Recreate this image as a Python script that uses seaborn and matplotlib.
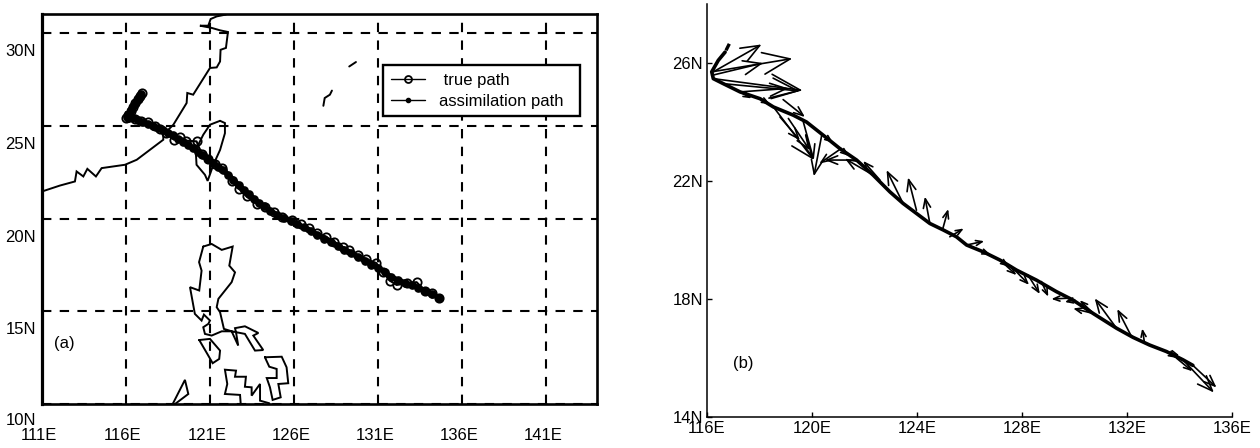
import matplotlib
matplotlib.use("Agg")
import matplotlib.pyplot as plt
from matplotlib.transforms import ScaledTranslation
import numpy as np
import seaborn as sns

# ---- panel (a): tracks (lon E, lat N) ----
true_lon = [116.95,116.82,116.7,116.55,116.42,116.28,116.12,116.0,116.2,116.55,116.9,117.3,117.7,118.05,118.4,118.86,119.2,119.6,
            120.2,120.5,120.9,121.3,121.7,122.3,122.74,123.18,123.8,124.3,124.8,125.3,125.9,126.4,126.9,127.4,127.9,128.4,128.9,
            129.3,129.8,130.3,130.9,131.3,131.71,132.11,132.7,133.3,133.8,134.2,134.65]
true_lat = [26.78,26.6,26.42,26.22,26.0,25.8,25.6,25.4,25.5,25.36,25.28,25.18,24.98,24.85,24.62,24.25,24.4,24.2,
            24.16,23.5,23.2,22.95,22.7,22.0,21.59,21.19,20.79,20.6,20.35,20.1,19.9,19.68,19.5,19.2,19.02,18.75,18.48,
            18.3,18.02,17.82,17.6,17.1,16.65,16.42,16.5,16.57,16.1,15.98,15.72]
assim_lon = [116.9,116.75,116.6,116.45,116.3,116.15,116.05,116.1,116.4,116.7,117.0,117.3,117.6,117.9,118.2,118.5,118.8,119.1,
             119.4,119.7,120.0,120.3,120.6,120.9,121.2,121.5,121.8,122.1,122.4,122.7,123.0,123.3,123.6,123.9,124.2,124.6,125.0,
             125.4,125.8,126.2,126.6,127.0,127.4,127.8,128.2,128.6,129.0,129.4,129.8,130.2,130.6,131.0,131.4,131.8,132.2,132.6,
             133.0,133.4,133.8,134.2,134.65]
assim_lat = [26.7,26.5,26.3,26.1,25.88,25.65,25.45,25.42,25.4,25.32,25.22,25.12,25.0,24.88,24.78,24.62,24.5,24.3,
             24.12,23.95,23.78,23.6,23.4,23.2,23.02,22.8,22.6,22.35,22.08,21.82,21.55,21.32,21.08,20.85,20.65,20.42,20.2,
             20.05,19.88,19.7,19.52,19.32,19.12,18.92,18.72,18.52,18.32,18.12,17.95,17.72,17.52,17.35,17.1,16.85,16.68,16.55,
             16.42,16.28,16.1,15.95,15.72]

# ---- coastlines (lon E, lat N) ----
china_lon = [111.0,112.07,112.96,113.06,113.46,113.7,114.21,114.55,115.94,116.64,118.22,118.22,118.82,119.61,119.65,120.0,121.0,121.4,121.6,121.63,121.95,122.07,121.6,121.1,120.4,120.9,121.04,121.4,121.95]
china_lat = [21.46,21.78,22.0,22.54,22.27,22.68,22.27,22.72,22.9,23.17,24.25,24.52,25.06,26.23,26.77,26.68,28.12,28.15,28.47,29.1,29.2,30.06,30.15,30.28,30.4,30.4,30.76,30.9,31.0]
taiwan_lon = [121.6,121.89,121.89,121.6,121.2,120.86,120.7,120.2,120.15,120.6,121.0,121.6]
taiwan_lat = [25.27,25.15,24.6,23.7,22.9,22.03,22.36,22.9,23.7,24.52,25.06,25.27]
islet1_lon = [129.29,129.69]
islet1_lat = [28.2,28.44]
islet2_lon = [127.75,127.83,128.14,128.26]
islet2_lat = [26.08,26.5,26.68,26.9]
luzon_lon = [120.6,121.1,121.7,122.35,122.15,122.49,122.29,121.5,121.4,121.6,121.83,122.29,122.68,122.55,122.49,123.08,123.88,123.58,124.17,123.68,123.08,122.29,121.7,121.1,120.7,120.6,120.9,121.0,120.64,120.5,120.1,119.81,120.36,120.5,120.35,120.6]
luzon_lat = [18.49,18.63,18.31,18.49,17.46,17.1,16.57,15.67,15.22,14.95,14.05,13.92,13.15,13.87,14.09,14.19,13.83,13.69,12.91,12.88,13.78,13.92,13.92,13.69,13.78,14.14,14.32,14.5,14.82,14.5,14.86,16.3,16.12,17.19,17.65,18.49]
mindoro_lon = [120.36,121.0,121.6,121.55,121.16,120.9,120.36]
mindoro_lat = [13.45,13.51,12.88,12.43,12.2,12.61,13.45]
panay_lon = [122.83,122.79,121.89,122.03,121.89,122.55,122.49,123.14,123.08,123.48,123.48,123.98,123.98,124.53]
panay_lat = [10.0,10.49,10.54,11.08,11.85,11.8,11.47,11.47,10.93,10.9,10.45,11.08,10.18,10.04]
leyte_lon = [124.27,125.27,125.56,125.66,125.07,125.21,124.73,124.57,124.38,124.97,124.97,124.53,124.27]
leyte_lat = [12.52,12.55,11.98,11.12,11.08,10.36,10.22,10.9,11.4,11.4,11.89,12.01,12.52]
palawan_lon = [118.78,119.51,119.71,118.92]
palawan_lat = [10.0,11.3,10.54,10.0]
coasts = [(china_lon,china_lat),(taiwan_lon,taiwan_lat),(islet1_lon,islet1_lat),(islet2_lon,islet2_lat),
          (luzon_lon,luzon_lat),(mindoro_lon,mindoro_lat),(panay_lon,panay_lat),(leyte_lon,leyte_lat),(palawan_lon,palawan_lat)]

a_xticks = [111,116,121,126,131,136,141]
a_xlabels = ["111E","116E","121E","126E","131E","136E","141E"]
a_yticks = [10,15,20,25,30]
a_ylabels = ["10N","15N","20N","25N","30N"]

# ---- panel (b): track and error vectors ----
b_track_lon = [116.69,116.43,116.18,116.24,116.62,117.26,118.02,118.53,119.29,119.79,120.43,121.06,121.7,122.33,122.97,123.47,123.98,124.49,125.0,125.5,125.89,126.52,127.16,127.79,128.55,129.31,129.95,130.71,131.6,132.23,132.86,133.5,134.13,134.51]
b_track_lat = [26.37,26.09,25.7,25.47,25.3,25.02,24.79,24.51,24.23,24.0,23.55,23.1,22.71,22.2,21.63,21.24,20.9,20.56,20.34,20.11,19.83,19.6,19.32,18.98,18.64,18.25,17.96,17.51,17.01,16.7,16.44,16.22,15.94,15.75]
b_dash_lon = [116.85,116.72]
b_dash_lat = [26.65,26.42]
arrow_lon0 = [116.24,116.18,116.18,116.24,116.62,117.26,118.53,118.78,119.1,119.67,120.37,121.11,121.7,122.33,122.59,123.47,123.98,124.49,124.97,118.9,
              125.25,125.89,127.16,127.67,128.23,128.74,129.82,130.01,130.71,130.65,131.6,132.17,132.67,133.5,133.88,134.51,134.13,
              117.26,118.02,120.43,121.06,126.52,127.16,133.5]
arrow_lat0 = [25.7,25.7,25.58,25.47,25.3,25.02,24.51,24.17,24.12,24.0,23.55,23.1,22.71,22.2,22.03,21.24,21.01,20.56,20.34,24.76,
              20.11,19.83,19.32,19.03,18.81,18.59,18.03,17.96,17.51,17.57,17.01,16.73,16.5,16.22,16.0,15.75,15.94,
              25.02,24.79,23.55,23.1,19.6,19.32,16.22]
arrow_lon1 = [118.08,119.25,118.14,119.64,119.54,119.1,120.07,119.54,119.92,120.07,120.07,120.28,120.49,121.25,121.95,122.84,123.66,124.3,125.19,119.73,
              125.78,126.56,127.79,128.27,128.68,129.0,129.12,129.63,129.95,130.2,130.77,131.63,132.58,134.0,134.49,135.41,135.31,
              117.7,118.4,120.8,121.4,126.8,127.5,133.9]
arrow_lat1 = [26.63,26.15,26.0,25.07,25.05,25.14,22.71,23.38,23.04,22.71,22.16,22.59,22.71,22.76,22.68,22.37,22.12,21.47,21.05,24.17,
              20.39,19.96,18.81,18.48,18.17,18.08,18.0,17.9,17.68,17.96,18.02,17.66,17.0,16.08,15.55,15.0,14.83,
              24.8,24.6,23.3,22.85,19.5,19.1,16.0]

b_xticks = [116,120,124,128,132,136]
b_xlabels = ["116E","120E","124E","128E","132E","136E"]
b_yticks = [14,18,22,26]
b_ylabels = ["14N","18N","22N","26N"]

sns.set_theme(style="white")
plt.rcParams["font.family"] = ["Liberation Sans", "DejaVu Sans"]
FS = 12

W, H = 1260, 448
fig = plt.figure(figsize=(W/100, H/100), dpi=100)

def box(l, t, r, b):
    return [l/W, 1-b/H, (r-l)/W, (b-t)/H]

# ---------------- (a) ----------------
ax = fig.add_axes(box(42, 14, 597, 404))
ax.set_xlim(111, 144.04)
ax.set_ylim(10, 31.03)
ax.set_xticks(a_xticks, a_xlabels)
ax.set_yticks(a_yticks, a_ylabels)
ax.grid(True, color="black", lw=1.5, linestyle=(0, (4.5, 4)))
ax.set_axisbelow(True)
ax.tick_params(length=0, labelsize=FS, colors="black", pad=0)
for s in ax.spines.values():
    s.set_visible(True); s.set_color("black"); s.set_linewidth(1.9)
ax.spines["left"].set_linewidth(2.3)
for lab, tick in zip(ax.get_yticklabels(), a_yticks):
    dy = -15/100 if tick == 10 else -17/100
    lab.set_transform(lab.get_transform() + ScaledTranslation(-6/100, dy, fig.dpi_scale_trans))
for lab in ax.get_xticklabels():
    lab.set_transform(lab.get_transform() + ScaledTranslation(-3/100, -24/100, fig.dpi_scale_trans))

for lon, lat in coasts:
    ax.plot(lon, lat, color="black", lw=1.4, solid_joinstyle="miter", clip_on=True)

sns.lineplot(x=true_lon, y=true_lat, sort=False, estimator=None, ax=ax, color="black", lw=1.5,
             marker="o", markersize=6, markerfacecolor="none", markeredgecolor="black",
             markeredgewidth=1.3, label=" true path")
sns.lineplot(x=assim_lon, y=assim_lat, sort=False, estimator=None, ax=ax, color="black", lw=3.8,
             marker="o", markersize=5.2, markerfacecolor="black", markeredgecolor="black",
             markeredgewidth=1.0, label="assimilation path")
leg = ax.legend(loc="upper left", bbox_to_anchor=((383-42)/555, (404-65)/390, 197/555, 0.0), borderaxespad=0,
                mode="expand", frameon=True, fancybox=False, framealpha=1, edgecolor="black", fontsize=FS,
                handlelength=2.05, borderpad=0.45, handletextpad=0.85, labelspacing=0.38)
leg.get_frame().set_linewidth(1.7)
for lh, ms in zip(leg.get_lines(), [5, 3]):
    lh.set_linewidth(1.0)
    lh.set_markersize(ms)
for t in leg.get_texts():
    t.set_color("black")
ax.text(112.3, 13.24, "(a)", fontsize=FS, color="black", ha="center", va="center")

# ---------------- (b) ----------------
bx = fig.add_axes(box(707, 4, 1232, 417))
bx.set_xlim(116, 136)
bx.set_ylim(14, 28)
bx.set_xticks(b_xticks, b_xlabels)
bx.set_yticks(b_yticks, b_ylabels)
bx.grid(False)
bx.tick_params(direction="in", length=3.6, width=1.0, labelsize=FS, colors="black", pad=3, left=True, bottom=True)
for side in ("top", "right"):
    bx.spines[side].set_visible(False)
for side in ("left", "bottom"):
    bx.spines[side].set_color("black"); bx.spines[side].set_linewidth(1.1)

sns.lineplot(x=b_track_lon, y=b_track_lat, sort=False, estimator=None, ax=bx, color="black", lw=2.6, legend=False)
bx.plot(b_dash_lon, b_dash_lat, color="black", lw=2.4, linestyle=(0, (2.2, 1.5)))

for x0, y0, x1, y1 in zip(arrow_lon0, arrow_lat0, arrow_lon1, arrow_lat1):
    length = np.hypot((x1-x0)*26.27, (y1-y0)*29.55)
    scale = float(np.clip(length*0.32, 6, 30))
    bx.annotate("", xy=(x1, y1), xytext=(x0, y0), annotation_clip=False,
                arrowprops=dict(arrowstyle="->,head_length=0.75,head_width=0.3", color="black", lw=1.2,
                                mutation_scale=scale, shrinkA=0, shrinkB=0))
bx.text(117.4, 15.8, "(b)", fontsize=FS, color="black", ha="center", va="center")

fig.savefig("out.png", dpi=100, facecolor="white")
